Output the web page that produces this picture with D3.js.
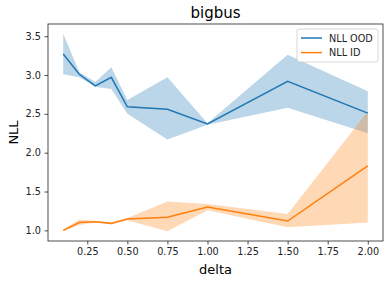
<!DOCTYPE html>
<html>
<head>
<meta charset="utf-8">
<script src="https://cdn.jsdelivr.net/npm/d3@7"></script>
<style>
  body { margin: 0; background: #fff; }
  svg { display: block; font-family: "DejaVu Sans", sans-serif; }
</style>
</head>
<body>
<svg width="390" height="284"></svg>
<script>
const deltas = [0.1, 0.2, 0.3, 0.4, 0.5, 0.75, 1.0, 1.5, 2.0]
const oodMean = [3.27, 3.01, 2.86, 2.97, 2.59, 2.56, 2.37, 2.92, 2.51]
const oodLow  = [3.01, 2.97, 2.85, 2.82, 2.50, 2.17, 2.36, 2.58, 2.25]
const oodHigh = [3.53, 3.04, 2.91, 3.10, 2.68, 2.97, 2.38, 3.26, 2.79]
const idMean = [1.00, 1.10, 1.11, 1.09, 1.145, 1.17, 1.30, 1.12, 1.83]
const idLow  = [0.99, 1.07, 1.10, 1.08, 1.13, 0.99, 1.26, 1.04, 1.10]
const idHigh = [1.01, 1.14, 1.12, 1.10, 1.16, 1.37, 1.34, 1.21, 2.53]
const xTicks = [0.25, 0.5, 0.75, 1.0, 1.25, 1.5, 1.75, 2.0]
const yTicks = [1.0, 1.5, 2.0, 2.5, 3.0, 3.5]
const seriesNames = ["NLL OOD", "NLL ID"]
const colors = ["#1f77b4", "#ff7f0e"]

const svg = d3.select("svg")
const pLeft = 48, pRight = 383, pTop = 24, pBottom = 241

// matplotlib style 5% margins
const xMin = d3.min(deltas), xMax = d3.max(deltas)
const xPad = (xMax - xMin) * 0.05
const yMin = d3.min(idLow.concat(oodLow)), yMax = d3.max(idHigh.concat(oodHigh))
const yPad = (yMax - yMin) * 0.05

const x = d3.scaleLinear().domain([xMin - xPad, xMax + xPad]).range([pLeft, pRight])
const y = d3.scaleLinear().domain([yMin - yPad, yMax + yPad]).range([pBottom, pTop])

const series = [
  {mean: oodMean, low: oodLow, high: oodHigh},
  {mean: idMean, low: idLow, high: idHigh}
]

const area = d3.area()
  .x(d => x(d.x))
  .y0(d => y(d.low))
  .y1(d => y(d.high))
const line = d3.line()
  .x(d => x(d.x))
  .y(d => y(d.y))

// bands first, then lines
series.forEach(function(s, i){
  const pts = deltas.map((d, j) => ({x: d, low: s.low[j], high: s.high[j]}))
  svg.append("path")
    .attr("d", area(pts))
    .attr("fill", colors[i])
    .attr("fill-opacity", 0.3)
})
series.forEach(function(s, i){
  const pts = deltas.map((d, j) => ({x: d, y: s.mean[j]}))
  svg.append("path")
    .attr("d", line(pts))
    .attr("fill", "none")
    .attr("stroke", colors[i])
    .attr("stroke-width", 1.5)
})

// axes
const xAxis = svg.append("g")
  .attr("transform", "translate(0," + pBottom + ")")
  .call(d3.axisBottom(x).tickValues(xTicks).tickFormat(d3.format(".2f")).tickSize(3.5).tickPadding(3.5))
const yAxis = svg.append("g")
  .attr("transform", "translate(" + pLeft + ",0)")
  .call(d3.axisLeft(y).tickValues(yTicks).tickFormat(d3.format(".1f")).tickSize(3.5).tickPadding(3.5))
;[xAxis, yAxis].forEach(function(g){
  g.select(".domain").remove()
  g.selectAll("text").attr("font-size", 9.7).attr("font-family", "DejaVu Sans").attr("fill", "#222")
  g.selectAll("line").attr("stroke", "#222").attr("stroke-width", 0.8)
})

svg.append("rect")
  .attr("x", pLeft).attr("y", pTop)
  .attr("width", pRight - pLeft).attr("height", pBottom - pTop)
  .attr("fill", "none").attr("stroke", "#222").attr("stroke-width", 0.8)

// labels
svg.append("text").attr("x", (pLeft + pRight) / 2).attr("y", 18)
  .attr("text-anchor", "middle").attr("font-size", 15).text("bigbus")
svg.append("text").attr("x", (pLeft + pRight) / 2).attr("y", 274)
  .attr("text-anchor", "middle").attr("font-size", 13).text("delta")
svg.append("text").attr("transform", "translate(18," + (pTop + pBottom) / 2 + ") rotate(-90)")
  .attr("text-anchor", "middle").attr("font-size", 13).text("NLL")

// legend
const lg = svg.append("g").attr("transform", "translate(297,29)")
lg.append("rect").attr("width", 81).attr("height", 33).attr("rx", 2)
  .attr("fill", "#fff").attr("fill-opacity", 0.8).attr("stroke", "#ccc").attr("stroke-width", 0.8)
seriesNames.forEach(function(name, i){
  const yy = 9 + i * 14.6
  lg.append("line").attr("x1", 4).attr("x2", 25).attr("y1", yy).attr("y2", yy)
    .attr("stroke", colors[i]).attr("stroke-width", 1.5)
  lg.append("text").attr("x", 32).attr("y", yy + 3.5).attr("font-size", 9.7).attr("fill", "#222").text(name)
})
</script>
</body>
</html>
